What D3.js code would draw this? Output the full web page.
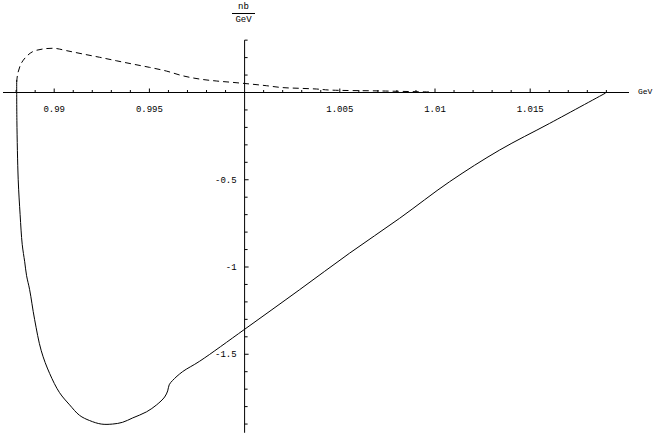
<!DOCTYPE html>
<html>
<head>
<meta charset="utf-8">
<script src="https://cdn.jsdelivr.net/npm/d3@7"></script>
<style>
  html, body { margin: 0; padding: 0; background: #fff; }
  svg { display: block; }
  text { font-family: "Liberation Mono", "DejaVu Sans Mono", monospace; font-size: 9px; fill: #000; }
</style>
</head>
<body>
<svg id="chart" width="654" height="436"></svg>
<script>
// ---- data (x in GeV, y in nb/GeV) ----
const solidX = [0.98803, 0.98804, 0.98811, 0.98821, 0.98832, 0.98845, 0.98855, 0.98871, 0.98897,
  0.98932, 0.98976, 0.99028, 0.99081, 0.99133, 0.99186, 0.99247, 0.99307, 0.99359, 0.99412,
  0.99485, 0.99538, 0.99580, 0.99596, 0.99604, 0.99622, 0.99674, 0.99764, 1.00000,
  1.00289, 1.00551, 1.00814, 1.01077, 1.01339, 1.01602, 1.01896];
const solidY = [0.072, -0.16, -0.50, -0.70, -0.87, -0.97, -1.05, -1.13, -1.30,
  -1.48, -1.61, -1.72, -1.79, -1.85, -1.88, -1.90, -1.90, -1.89, -1.865,
  -1.83, -1.79, -1.745, -1.71, -1.675, -1.65, -1.60, -1.54, -1.357,
  -1.13, -0.921, -0.721, -0.511, -0.330, -0.177, -0.003];

const dashX = [0.98803, 0.98809, 0.98827, 0.98853, 0.98887, 0.98939, 0.99002, 0.99064, 0.99149,
  0.99238, 0.99326, 0.99412, 0.99501, 0.99589, 0.99674, 0.99764, 0.99851, 0.99937, 1.00026,
  1.00114, 1.00200, 1.00289, 1.00377, 1.00446, 1.00709, 1.00972];
const dashY = [0.060, 0.110, 0.167, 0.205, 0.234, 0.249, 0.253, 0.240, 0.221,
  0.202, 0.182, 0.163, 0.144, 0.123, 0.096, 0.077, 0.066, 0.058, 0.049,
  0.039, 0.028, 0.024, 0.020, 0.014, 0.009, 0.003];

const xMajorTicks = [0.99, 0.995, 1.005, 1.01, 1.015];
const xTickLabels = ["0.99", "0.995", "1.005", "1.01", "1.015"];
const yMajorTicks = [-1.5, -1, -0.5];
const yTickLabels = ["-1.5", "-1", "-0.5"];
const xUnit = "GeV";
const yUnitNum = "nb";
const yUnitDen = "GeV";

// ---- scales ----
const x = d3.scaleLinear().domain([0.99, 1.015]).range([54.2, 530.2]);
const y = d3.scaleLinear().domain([0, -1.5]).range([92.5, 354.25]);

const svg = d3.select("#chart");
svg.append("rect").attr("width", 654).attr("height", 436).attr("fill", "#fff");

const x0 = x(1.0), y0 = y(0);

// axes lines
svg.append("line").attr("x1", 3).attr("x2", 629).attr("y1", y0).attr("y2", y0)
  .attr("stroke", "#000").attr("stroke-width", 1);
svg.append("line").attr("x1", x0).attr("x2", x0).attr("y1", y(0.3)).attr("y2", y(-1.95))
  .attr("stroke", "#000").attr("stroke-width", 1);

// x ticks (minor every 0.001, pointing up)
const xMinor = d3.range(-12, 20).map(i => +(1 + i * 0.001).toFixed(3)).filter(v => v !== 1);
svg.append("g").selectAll("line").data(xMinor).join("line")
  .attr("x1", d => x(d)).attr("x2", d => x(d))
  .attr("y1", y0).attr("y2", d => y0 - (xMajorTicks.includes(d) ? 4 : 2.5))
  .attr("stroke", "#000").attr("stroke-width", 1);
svg.append("g").selectAll("text").data(xMajorTicks).join("text")
  .attr("x", d => x(d)).attr("y", y0 + 19)
  .attr("text-anchor", "middle")
  .text((d, i) => xTickLabels[i]);

// y ticks (minor every 0.1, pointing right)
const yMinor = d3.range(-19, 4).map(i => +(i * 0.1).toFixed(1)).filter(v => v !== 0);
svg.append("g").selectAll("line").data(yMinor).join("line")
  .attr("x1", x0).attr("x2", d => x0 + (yMajorTicks.includes(d) ? 4 : 3))
  .attr("y1", d => y(d)).attr("y2", d => y(d))
  .attr("stroke", "#000").attr("stroke-width", 1);
svg.append("g").selectAll("text").data(yMajorTicks).join("text")
  .attr("x", x0 - 8).attr("y", d => y(d) + 3)
  .attr("text-anchor", "end")
  .text((d, i) => yTickLabels[i]);

// axis unit labels
svg.append("text").attr("x", 638).attr("y", y0 + 1).style("font-size", "8px").text(xUnit);
svg.append("text").attr("x", 243.5).attr("y", 9).attr("text-anchor", "middle").text(yUnitNum);
svg.append("line").attr("x1", 232).attr("x2", 255).attr("y1", 13.5).attr("y2", 13.5)
  .attr("stroke", "#000").attr("stroke-width", 1);
svg.append("text").attr("x", 243.5).attr("y", 22).attr("text-anchor", "middle").text(yUnitDen);

// curves
const line = d3.line().x(d => x(d[0])).y(d => y(d[1])).curve(d3.curveCatmullRom.alpha(0.5));
svg.append("path").datum(solidX.map((v, i) => [v, solidY[i]]))
  .attr("d", line).attr("fill", "none").attr("stroke", "#000").attr("stroke-width", 1);
svg.append("path").datum(dashX.map((v, i) => [v, dashY[i]]))
  .attr("d", line).attr("fill", "none").attr("stroke", "#000").attr("stroke-width", 1)
  .attr("stroke-dasharray", "6,4");
</script>
</body>
</html>
